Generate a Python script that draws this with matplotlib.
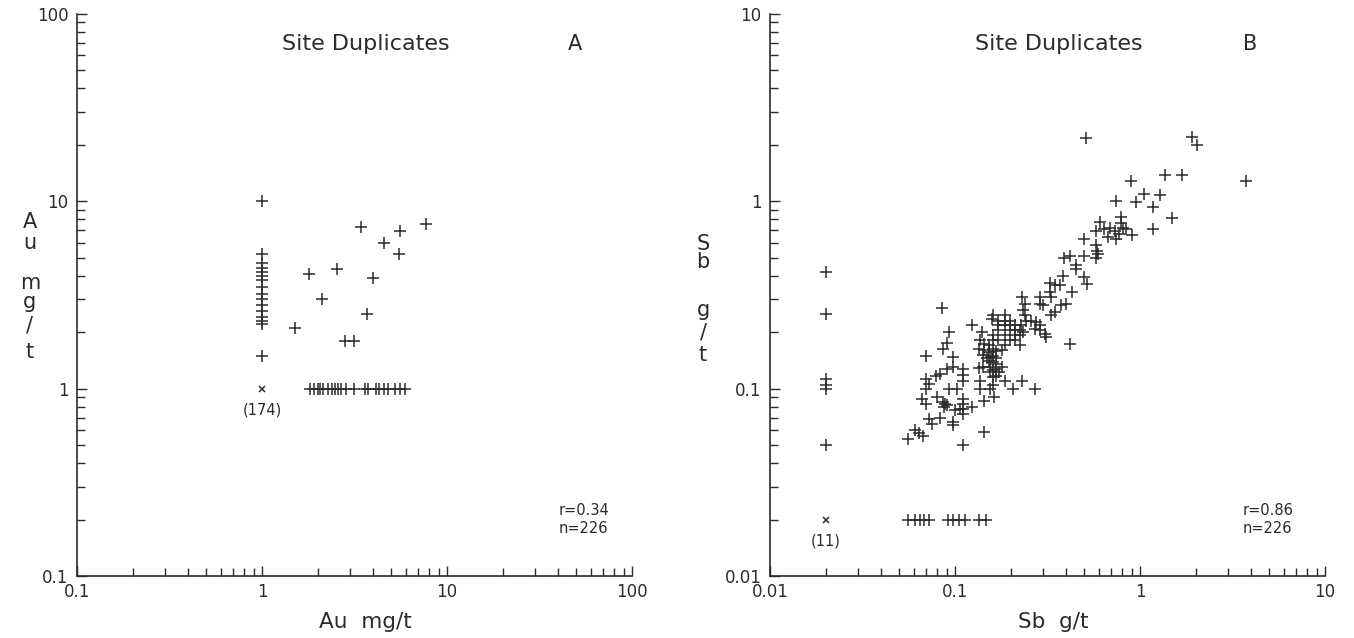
import matplotlib
matplotlib.use("Agg")
import matplotlib.pyplot as plt
from matplotlib.ticker import LogLocator, NullFormatter, FixedLocator, FixedFormatter

# ---- Panel A: Au mg/t (site duplicates) ----
au_col_x = [1, 1, 1, 1, 1, 1, 1, 1, 1, 1, 1, 1, 1, 1, 1, 1]
au_col_y = [10, 5.2, 4.7, 4.4, 4.2, 4.0, 3.8, 3.5, 3.2, 3.0, 2.8, 2.6, 2.4, 2.3, 2.2, 1.5]
au_pts_x = [1.51, 1.80, 2.12, 2.53, 2.82, 3.15, 3.44, 3.67, 3.96, 4.59, 5.6, 5.5, 7.72]
au_pts_y = [2.1, 4.07, 3.0, 4.37, 1.8, 1.8, 7.3, 2.49, 3.88, 5.96, 6.93, 5.25, 7.6]
au_row_x = [1.82, 1.92, 2.01, 2.06, 2.14, 2.28, 2.40, 2.47, 2.58, 2.66, 2.84,
            3.15, 3.60, 3.75, 4.13, 4.31, 4.54, 4.78, 5.20, 5.60, 5.93]
au_row_y = [1.0] * len(au_row_x)
au_origin = (1.0, 1.0)
au_origin_n = "(174)"
au_stats = "r=0.34\nn=226"

# ---- Panel B: Sb g/t (site duplicates) ----
sb_col_x = [0.02, 0.02, 0.02, 0.02, 0.02, 0.02]
sb_col_y = [0.42, 0.25, 0.112, 0.105, 0.1, 0.05]
sb_row_x = [0.056, 0.061, 0.0645, 0.068, 0.072, 0.092, 0.098, 0.105, 0.113, 0.135, 0.147]
sb_row_y = [0.02] * len(sb_row_x)
sb_pts_x = [
    0.056, 0.061, 0.064, 0.067, 0.111, 0.143,
    0.072, 0.075, 0.083, 0.097, 0.097,
    0.100, 0.107, 0.111, 0.111, 0.111, 0.111, 0.124,
    0.0665, 0.070, 0.080, 0.086, 0.088, 0.090, 0.087,
    0.162, 0.143,
    0.0695, 0.0725, 0.0695, 0.093, 0.102, 0.137, 0.137, 0.154,
    0.083, 0.079, 0.098, 0.090, 0.111, 0.111, 0.111, 0.134,
    0.0695, 0.097, 0.090, 0.086, 0.085, 0.093, 0.124, 0.140, 0.158, 0.136,
    0.186, 0.206, 0.229, 0.270,
    0.173, 0.167, 0.180, 0.160, 0.160, 0.160,
    0.134, 0.142, 0.148, 0.157, 0.167, 0.142, 0.154,
    0.143, 0.152, 0.160, 0.167, 0.152, 0.160, 0.167, 0.143, 0.152, 0.160, 0.167, 0.155,
    0.160, 0.170, 0.186, 0.186, 0.186, 0.198, 0.198, 0.198, 0.211, 0.211, 0.211,
    0.225, 0.225, 0.170, 0.170, 0.160, 0.186, 0.198, 0.211, 0.225, 0.170, 0.186, 0.160, 0.180,
    0.229, 0.238, 0.233, 0.238, 0.243, 0.259, 0.275, 0.287, 0.270, 0.287, 0.305, 0.310,
    0.227, 0.233, 0.420,
    0.287, 0.287, 0.300,
    0.328, 0.332, 0.430,
    0.400, 0.374, 0.346, 0.332,
    0.384, 0.328, 0.346, 0.368,
    0.500, 0.520,
    0.450, 0.450,
    0.390, 0.420, 0.500,
    0.580, 0.585, 0.595, 0.580,
    0.500, 0.605, 0.575, 0.637, 0.686, 0.730,
    0.840, 0.810, 0.770, 0.745, 0.670, 0.910,
    0.790, 0.790,
    0.740, 0.950, 0.897, 1.050, 1.280, 1.170, 1.480, 1.170,
    1.370, 1.690, 0.510, 1.920, 2.030, 3.760,
]
sb_pts_y = [
    0.054, 0.060, 0.058, 0.056, 0.050, 0.059,
    0.069, 0.065, 0.070, 0.066, 0.064,
    0.077, 0.078, 0.088, 0.083, 0.078, 0.073, 0.080,
    0.088, 0.083, 0.090, 0.085, 0.083, 0.082, 0.080,
    0.090, 0.086,
    0.113, 0.106, 0.100, 0.100, 0.100, 0.110, 0.100, 0.100,
    0.120, 0.117, 0.130, 0.128, 0.128, 0.118, 0.110, 0.129,
    0.149, 0.148, 0.176, 0.163, 0.269, 0.200, 0.219, 0.200, 0.236, 0.181,
    0.110, 0.100, 0.110, 0.100,
    0.123, 0.117, 0.130, 0.125, 0.115, 0.104,
    0.163, 0.151, 0.146, 0.148, 0.136, 0.130, 0.123,
    0.174, 0.170, 0.163, 0.158, 0.156, 0.150, 0.145, 0.160, 0.140, 0.138, 0.128, 0.130,
    0.246, 0.231, 0.246, 0.231, 0.218, 0.231, 0.218, 0.205, 0.218, 0.205, 0.193,
    0.205, 0.193, 0.218, 0.205, 0.193, 0.193, 0.181, 0.181, 0.170, 0.181, 0.170, 0.181, 0.160,
    0.308, 0.284, 0.262, 0.246, 0.231, 0.231, 0.227, 0.218, 0.209, 0.205, 0.196, 0.189,
    0.218, 0.200, 0.174,
    0.308, 0.284, 0.278,
    0.328, 0.308, 0.328,
    0.284, 0.278, 0.256, 0.246,
    0.400, 0.367, 0.356, 0.356,
    0.394, 0.363,
    0.455, 0.436,
    0.500, 0.510, 0.510,
    0.586, 0.540, 0.525, 0.498,
    0.630, 0.775, 0.698, 0.713, 0.716, 0.698,
    0.713, 0.720, 0.670, 0.630, 0.645, 0.660,
    0.820, 0.770,
    1.000, 0.990, 1.280, 1.100, 1.080, 0.930, 0.810, 0.713,
    1.380, 1.380, 2.180, 2.200, 1.990, 1.290,
]
sb_origin = (0.02, 0.02)
sb_origin_n = "(11)"
sb_stats = "r=0.86\nn=226"

ink = "#2b2b2b"
plus = dict(marker="+", linestyle="none", color=ink, markersize=8.5, markeredgewidth=1.1)

fig = plt.figure(figsize=(13.54, 6.38), dpi=100)
plt.rcParams["font.family"] = ["DejaVu Sans"]


def setup_axis(ax, lo, hi, labels):
    ax.set_xscale("log")
    ax.set_yscale("log")
    ax.set_xlim(lo, hi)
    ax.set_ylim(lo, hi)
    for side in ("top", "right"):
        ax.spines[side].set_visible(False)
    for side in ("left", "bottom"):
        ax.spines[side].set_linewidth(1.2)
        ax.spines[side].set_color(ink)
    majors = [lo * 10 ** i for i in range(4)]
    for axis in (ax.xaxis, ax.yaxis):
        axis.set_major_locator(FixedLocator(majors))
        axis.set_major_formatter(FixedFormatter(labels))
        axis.set_minor_locator(LogLocator(base=10, subs=range(2, 10)))
        axis.set_minor_formatter(NullFormatter())
    ax.tick_params(which="both", direction="in", color=ink, width=1.0,
                   labelsize=12, labelcolor=ink)
    ax.tick_params(which="major", length=7)
    ax.tick_params(which="minor", length=6)
    ax.tick_params(axis="x", pad=5)
    ax.tick_params(axis="y", pad=6)
    ax.patch.set_alpha(0)


def decorate(ax, title_tag, tag_x, stats, stats_x, xlabel, xlabel_x):
    ax.text(0.52, 0.947, "Site Duplicates", transform=ax.transAxes, ha="center",
            va="center", fontsize=16, color=ink)
    ax.text(tag_x, 0.947, title_tag, transform=ax.transAxes, ha="center",
            va="center", fontsize=15, color=ink)
    ax.text(stats_x, 0.10, stats, transform=ax.transAxes, ha="left", va="center",
            fontsize=10.5, color=ink, linespacing=1.25)
    ax.text(xlabel_x, -0.082, xlabel, transform=ax.transAxes, ha="center",
            va="center", fontsize=15.5, color=ink)


# Panel A
axA = fig.add_axes([0.0569, 0.0972, 0.4099, 0.881])
setup_axis(axA, 0.1, 100, ["0.1", "1", "10", "100"])
axA.plot(au_col_x, au_col_y, **plus)
axA.plot(au_pts_x, au_pts_y, **plus)
axA.plot(au_row_x, au_row_y, **plus)
axA.plot([au_origin[0]], [au_origin[1]], marker="x", linestyle="none", color=ink,
         markersize=5, markeredgewidth=1.1)
axA.annotate(au_origin_n, au_origin, xytext=(0, -10), textcoords="offset points",
             ha="center", va="top", fontsize=10.5, color=ink)
decorate(axA, "A", 0.897, au_stats, 0.868, "Au  mg/t", 0.52)

# Panel B
axB = fig.add_axes([0.5687, 0.0972, 0.4099, 0.881])
setup_axis(axB, 0.01, 10, ["0.01", "0.1", "1", "10"])
axB.plot(sb_col_x, sb_col_y, **plus)
axB.plot(sb_row_x, sb_row_y, **plus)
axB.plot(sb_pts_x, sb_pts_y, **plus)
axB.plot([sb_origin[0]], [sb_origin[1]], marker="x", linestyle="none", color=ink,
         markersize=5, markeredgewidth=1.1)
axB.annotate(sb_origin_n, sb_origin, xytext=(0, -10), textcoords="offset points",
             ha="center", va="top", fontsize=10.5, color=ink)
decorate(axB, "B", 0.865, sb_stats, 0.852, "Sb  g/t", 0.51)

# stacked vertical y-axis labels
au_letters = ["A", "u", "m", "g", "/", "t"]
au_letter_y = [222, 243, 283, 302, 325, 352]
sb_letters = ["S", "b", "g", "/", "t"]
sb_letter_y = [244, 262, 310, 332, 355]
for ch, py in zip(au_letters, au_letter_y):
    fig.text(30 / 1354, 1 - py / 638, ch, ha="center", va="center", fontsize=15, color=ink)
for ch, py in zip(sb_letters, sb_letter_y):
    fig.text(703 / 1354, 1 - py / 638, ch, ha="center", va="center", fontsize=15, color=ink)

fig.savefig("out.png", dpi=100, facecolor="white")
